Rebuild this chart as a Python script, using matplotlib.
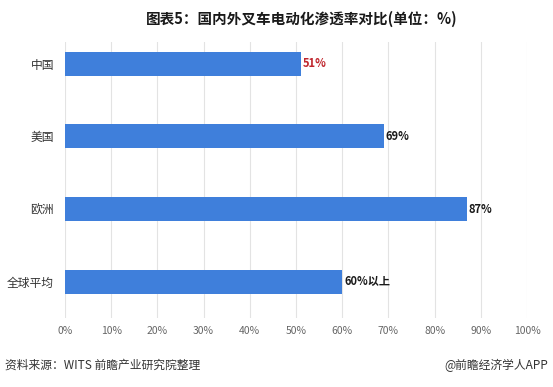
import matplotlib.pyplot as plt
import numpy as np

plt.rcParams['font.family'] = ['Noto Sans CJK SC', 'DejaVu Sans']

categories = ['中国', '美国', '欧洲', '全球平均']
values = [51, 69, 87, 60]
labels = ['51%', '69%', '87%', '60%以上']
label_colors = ['#C0262D', '#1a1a1a', '#1a1a1a', '#1a1a1a']
xticks = np.arange(0, 101, 10)

fig = plt.figure(figsize=(5.53, 3.87), dpi=100)
ax = fig.add_axes([65/553, 1-318/387, (527-65)/553, (318-42)/387])

y = np.arange(len(categories))
ax.barh(y, values, height=0.33, color='#3F7FDB', zorder=3)
for yi, v, lab, c in zip(y, values, labels, label_colors):
    ax.text(v + 0.4, yi, lab, va='center', ha='left', fontsize=8,
            fontweight='bold', color=c, zorder=4)

ax.set_xlim(0, 100)
ax.set_ylim(3.5, -0.3)
ax.set_xticks(xticks)
ax.set_xticklabels([f'{t}%' for t in xticks], fontsize=7.5, color='#666666')
ax.set_yticks(y)
ax.set_yticklabels(categories, fontsize=8.5, color='#333333')
ax.tick_params(axis='y', length=0, pad=8)
ax.tick_params(axis='x', length=0, pad=6)
ax.grid(axis='x', color='#E3E3E3', linewidth=0.8, zorder=0)
for s in ax.spines.values():
    s.set_visible(False)

fig.text(302/553, 1-19/387, '图表5：国内外叉车电动化渗透率对比(单位：%)', ha='center', va='center',
         fontsize=10.5, fontweight='bold', color='#1a1a1a')
fig.text(5/553, 1-365/387, '资料来源：WITS 前瞻产业研究院整理', ha='left', va='center',
         fontsize=8.5, color='#333333')
fig.text(548/553, 1-365/387, '@前瞻经济学人APP', ha='right', va='center',
         fontsize=8.5, color='#333333')

fig.savefig('out.png', dpi=100)
